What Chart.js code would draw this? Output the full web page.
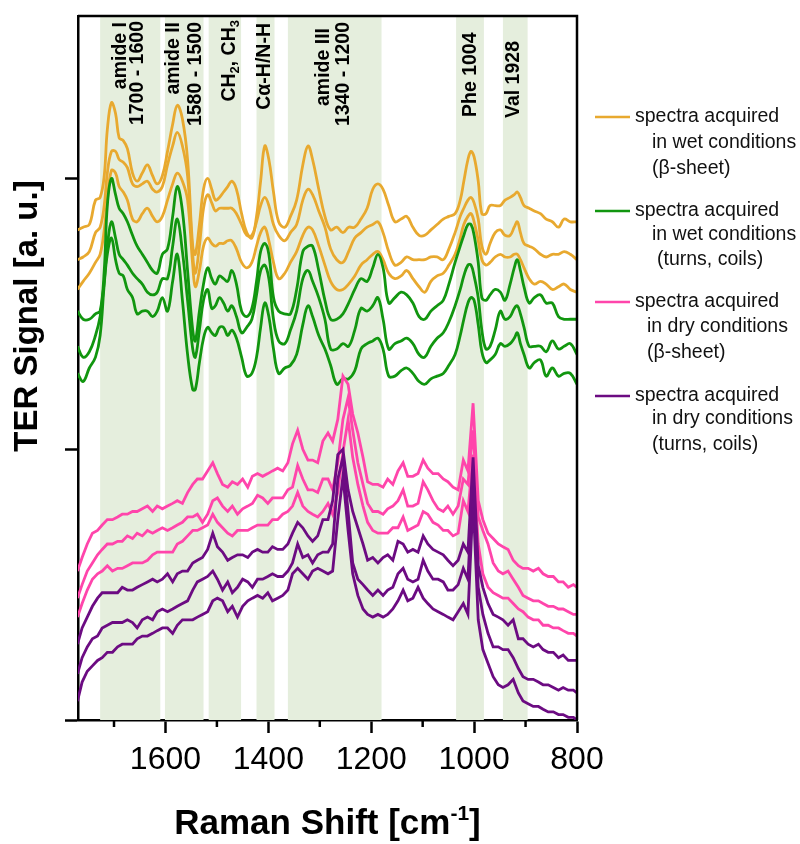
<!DOCTYPE html>
<html lang="en">
<head>
<meta charset="UTF-8" />
<title>TER spectra</title>
<script src="https://cdn.jsdelivr.net/npm/chart.js"></script>
<style>
  html, body { margin: 0; padding: 0; background: #fff; }
</style>
</head>
<body>
<canvas id="grafico" width="800" height="844"></canvas>
<script>
// Raman shift grids (cm-1)
const wetShift = [1771,1760,1748,1736,1727,1719,1713,1705,1697,1690,
  1682,1674,1664,1655,1645,1635,1625,1616,1606,1596,
  1586,1577,1567,1557,1547,1542,1534,1526,1518,1510,
  1503,1495,1487,1479,1471,1462,1452,1442,1432,1423,
  1415,1407,1399,1390,1380,1368,1357,1345,1333,1323,
  1314,1302,1290,1279,1267,1255,1244,1232,1220,1208,
  1197,1187,1177,1166,1154,1142,1131,1119,1107,1096,
  1084,1072,1060,1049,1037,1027,1020,1012,1006,1000,
  992,985,977,969,959,949,940,930,922,916,
  910,903,893,883,871,860,848,836,825,813,800];

const dryShift = [1771,1762,1752,1742,1732,1723,1713,1703,1693,1684,
  1674,1664,1655,1645,1635,1625,1616,1606,1596,1586,
  1577,1567,1557,1547,1538,1528,1518,1508,1499,1489,
  1479,1470,1460,1450,1440,1431,1421,1411,1401,1392,
  1382,1372,1362,1353,1343,1333,1323,1314,1304,1294,
  1284,1275,1265,1255,1245,1236,1226,1216,1207,1197,
  1187,1177,1168,1158,1148,1138,1129,1119,1109,1099,
  1090,1080,1070,1060,1051,1041,1031,1021,1012,1002,
  992,983,973,963,953,944,934,924,914,905,
  895,885,875,866,856,846,836,827,817,807,800];

// wet, beta-sheet (orange)
const wetBeta1 = [1.81,1.82,1.83,1.92,1.93,2.01,2.18,2.28,2.24,2.15,
  2.14,2.11,2.02,1.99,2.02,2.05,2.01,1.98,2.01,2.10,
  2.20,2.27,2.22,2.07,1.75,1.72,1.83,1.96,2.00,1.96,
  1.92,1.93,1.95,1.97,1.99,1.96,1.87,1.80,1.78,1.86,
  1.99,2.12,2.07,1.95,1.84,1.82,1.86,1.92,2.05,2.12,
  2.07,1.96,1.86,1.81,1.82,1.80,1.82,1.82,1.85,1.89,
  1.96,1.98,1.96,1.90,1.84,1.85,1.86,1.82,1.79,1.79,
  1.81,1.83,1.85,1.86,1.87,1.92,1.99,2.07,2.10,2.08,
  1.99,1.87,1.87,1.90,1.90,1.90,1.92,1.93,1.94,1.95,
  1.93,1.90,1.89,1.88,1.87,1.85,1.84,1.82,1.85,1.84,1.84];
const wetBeta2 = [1.70,1.71,1.73,1.80,1.82,1.90,2.02,2.10,2.10,2.07,
  2.06,2.04,1.98,1.97,1.98,1.99,1.96,1.95,1.97,2.05,
  2.12,2.17,2.12,2.01,1.72,1.65,1.75,1.89,1.94,1.91,
  1.88,1.89,1.89,1.89,1.89,1.87,1.83,1.79,1.79,1.84,
  1.90,1.93,1.90,1.83,1.79,1.77,1.80,1.83,1.92,1.96,
  1.94,1.88,1.82,1.74,1.70,1.69,1.73,1.78,1.80,1.82,
  1.83,1.84,1.80,1.73,1.68,1.69,1.71,1.70,1.70,1.70,
  1.71,1.71,1.70,1.74,1.80,1.86,1.89,1.92,1.93,1.91,
  1.85,1.75,1.72,1.76,1.80,1.81,1.79,1.79,1.82,1.84,
  1.80,1.76,1.75,1.74,1.72,1.71,1.72,1.72,1.73,1.72,1.70];
const wetBeta3 = [1.59,1.62,1.65,1.69,1.72,1.81,1.92,2.03,2.02,1.97,
  1.95,1.92,1.85,1.84,1.87,1.89,1.86,1.84,1.86,1.92,
  1.98,2.02,1.99,1.92,1.68,1.60,1.66,1.75,1.78,1.76,
  1.75,1.76,1.76,1.77,1.77,1.74,1.69,1.67,1.69,1.75,
  1.80,1.82,1.77,1.69,1.63,1.65,1.69,1.73,1.79,1.82,
  1.81,1.75,1.68,1.62,1.59,1.59,1.61,1.64,1.68,1.70,
  1.72,1.73,1.70,1.65,1.63,1.64,1.66,1.63,1.60,1.58,
  1.62,1.64,1.65,1.68,1.72,1.78,1.83,1.86,1.87,1.84,
  1.77,1.70,1.68,1.69,1.71,1.72,1.71,1.71,1.72,1.72,
  1.70,1.67,1.63,1.61,1.62,1.61,1.59,1.60,1.61,1.59,1.58];

// wet, turns and coils (green)
const wetTurn1 = [1.51,1.48,1.48,1.50,1.51,1.66,1.90,2.00,1.94,1.89,
  1.87,1.84,1.79,1.75,1.72,1.69,1.66,1.65,1.72,1.74,
  1.86,1.97,1.88,1.66,1.44,1.40,1.51,1.61,1.67,1.63,
  1.61,1.64,1.63,1.62,1.66,1.61,1.51,1.49,1.52,1.62,
  1.73,1.76,1.72,1.56,1.51,1.50,1.50,1.59,1.73,1.75,
  1.75,1.66,1.55,1.48,1.48,1.50,1.54,1.59,1.63,1.62,
  1.67,1.72,1.67,1.54,1.56,1.58,1.57,1.54,1.49,1.48,
  1.51,1.53,1.55,1.61,1.69,1.75,1.79,1.83,1.83,1.79,
  1.69,1.56,1.55,1.57,1.59,1.58,1.55,1.61,1.67,1.70,
  1.66,1.60,1.54,1.56,1.57,1.54,1.54,1.49,1.48,1.48,1.48];
const wetTurn2 = [1.38,1.34,1.36,1.42,1.49,1.62,1.75,1.84,1.78,1.72,
  1.70,1.68,1.65,1.63,1.61,1.58,1.57,1.58,1.63,1.63,
  1.75,1.85,1.73,1.55,1.37,1.34,1.44,1.55,1.59,1.52,
  1.53,1.56,1.54,1.51,1.53,1.49,1.43,1.45,1.48,1.57,
  1.66,1.68,1.63,1.48,1.40,1.39,1.44,1.51,1.63,1.66,
  1.62,1.56,1.48,1.37,1.37,1.39,1.38,1.44,1.52,1.51,
  1.53,1.56,1.48,1.37,1.39,1.40,1.41,1.39,1.35,1.34,
  1.38,1.41,1.43,1.47,1.53,1.59,1.64,1.68,1.68,1.64,
  1.56,1.44,1.37,1.38,1.44,1.51,1.48,1.49,1.52,1.53,
  1.50,1.45,1.38,1.38,1.38,1.36,1.40,1.37,1.38,1.39,1.35];
const wetTurn3 = [1.28,1.25,1.30,1.34,1.42,1.61,1.72,1.78,1.70,1.65,
  1.64,1.59,1.56,1.50,1.51,1.51,1.49,1.51,1.56,1.51,
  1.62,1.72,1.55,1.35,1.22,1.22,1.32,1.41,1.45,1.43,
  1.42,1.45,1.45,1.42,1.44,1.41,1.34,1.27,1.28,1.34,
  1.45,1.54,1.49,1.37,1.28,1.30,1.31,1.35,1.46,1.53,
  1.49,1.42,1.37,1.31,1.24,1.26,1.26,1.29,1.37,1.39,
  1.40,1.41,1.37,1.27,1.27,1.29,1.30,1.28,1.25,1.24,
  1.26,1.27,1.28,1.31,1.35,1.42,1.48,1.54,1.56,1.55,
  1.46,1.36,1.32,1.33,1.35,1.39,1.38,1.39,1.41,1.43,
  1.39,1.35,1.30,1.32,1.33,1.27,1.30,1.27,1.28,1.28,1.24];

// dry, beta-sheet (pink)
const dryBeta1 = [0.55,0.60,0.65,0.69,0.70,0.72,0.74,0.74,0.75,0.76,
  0.76,0.77,0.77,0.78,0.79,0.77,0.79,0.78,0.79,0.80,
  0.81,0.80,0.84,0.87,0.89,0.89,0.92,0.95,0.91,0.87,
  0.86,0.88,0.87,0.89,0.86,0.90,0.91,0.90,0.91,0.92,
  0.93,0.92,0.95,1.02,1.07,1.00,0.96,0.96,0.95,1.03,
  1.06,1.03,1.11,1.27,1.24,1.13,1.06,0.97,0.88,0.87,
  0.87,0.86,0.89,0.87,0.92,0.95,0.90,0.90,0.91,0.96,
  0.93,0.91,0.91,0.89,0.88,0.86,0.85,0.96,0.92,1.17,
  0.81,0.74,0.69,0.67,0.65,0.64,0.63,0.59,0.57,0.56,
  0.56,0.55,0.56,0.54,0.53,0.53,0.51,0.51,0.49,0.50,0.49];
const dryBeta2 = [0.45,0.50,0.55,0.58,0.61,0.63,0.65,0.65,0.66,0.66,
  0.68,0.67,0.69,0.68,0.70,0.69,0.70,0.71,0.70,0.71,
  0.72,0.73,0.75,0.75,0.76,0.73,0.76,0.81,0.82,0.79,
  0.77,0.79,0.76,0.78,0.79,0.80,0.83,0.82,0.80,0.82,
  0.82,0.82,0.85,0.86,0.94,0.89,0.85,0.85,0.84,0.89,
  0.89,0.85,0.95,1.11,1.19,1.07,0.95,0.87,0.80,0.77,
  0.77,0.76,0.78,0.79,0.81,0.85,0.79,0.79,0.80,0.88,
  0.85,0.81,0.78,0.77,0.79,0.76,0.79,0.89,0.87,1.07,
  0.75,0.70,0.65,0.58,0.55,0.54,0.55,0.52,0.49,0.46,
  0.45,0.44,0.44,0.43,0.42,0.42,0.41,0.41,0.40,0.39,0.39];
const dryBeta3 = [0.38,0.43,0.48,0.52,0.54,0.55,0.57,0.55,0.56,0.56,
  0.57,0.58,0.58,0.58,0.59,0.61,0.62,0.62,0.62,0.62,
  0.65,0.66,0.68,0.70,0.70,0.71,0.72,0.76,0.73,0.71,
  0.69,0.68,0.70,0.70,0.70,0.71,0.72,0.72,0.72,0.74,
  0.74,0.76,0.77,0.79,0.84,0.79,0.77,0.76,0.75,0.77,
  0.80,0.76,0.84,0.99,1.11,0.97,0.87,0.79,0.73,0.70,
  0.69,0.69,0.69,0.71,0.71,0.75,0.70,0.71,0.72,0.77,
  0.76,0.73,0.72,0.70,0.70,0.68,0.69,0.81,0.77,0.98,
  0.65,0.54,0.49,0.47,0.46,0.45,0.45,0.43,0.41,0.40,
  0.38,0.37,0.37,0.35,0.35,0.34,0.34,0.33,0.32,0.32,0.31];

// dry, turns and coils (purple)
const dryTurn1 = [0.28,0.34,0.38,0.42,0.45,0.47,0.47,0.47,0.47,0.49,
  0.48,0.48,0.49,0.50,0.51,0.52,0.51,0.52,0.54,0.51,
  0.54,0.55,0.55,0.58,0.59,0.60,0.63,0.69,0.64,0.62,
  0.59,0.60,0.61,0.61,0.60,0.62,0.63,0.62,0.62,0.64,
  0.63,0.63,0.65,0.69,0.73,0.71,0.68,0.66,0.68,0.74,
  0.74,0.81,0.98,1.00,0.85,0.77,0.71,0.65,0.59,0.60,
  0.58,0.60,0.61,0.59,0.66,0.65,0.62,0.63,0.62,0.68,
  0.65,0.63,0.62,0.61,0.59,0.57,0.59,0.65,0.62,0.97,
  0.57,0.49,0.43,0.39,0.38,0.37,0.35,0.37,0.30,0.30,
  0.28,0.27,0.28,0.26,0.25,0.25,0.23,0.24,0.22,0.22,0.22];
const dryTurn2 = [0.17,0.23,0.27,0.30,0.31,0.34,0.35,0.36,0.36,0.36,
  0.37,0.36,0.34,0.37,0.38,0.37,0.40,0.41,0.40,0.41,
  0.42,0.43,0.44,0.48,0.51,0.52,0.53,0.55,0.52,0.48,
  0.51,0.47,0.49,0.52,0.51,0.49,0.52,0.52,0.53,0.54,
  0.53,0.53,0.55,0.58,0.65,0.60,0.61,0.58,0.61,0.62,
  0.62,0.65,0.89,0.97,0.77,0.58,0.52,0.50,0.48,0.46,
  0.48,0.46,0.48,0.49,0.54,0.56,0.52,0.51,0.52,0.59,
  0.55,0.52,0.52,0.51,0.48,0.48,0.50,0.56,0.52,0.90,
  0.49,0.39,0.32,0.27,0.27,0.26,0.26,0.23,0.19,0.16,
  0.15,0.15,0.14,0.13,0.13,0.12,0.11,0.12,0.11,0.11,0.10];
const dryTurn3 = [0.07,0.14,0.18,0.20,0.22,0.23,0.25,0.25,0.27,0.28,
  0.28,0.28,0.30,0.31,0.31,0.32,0.33,0.34,0.34,0.32,
  0.35,0.37,0.37,0.37,0.38,0.39,0.40,0.44,0.45,0.44,
  0.40,0.42,0.38,0.42,0.44,0.45,0.46,0.45,0.47,0.44,
  0.45,0.46,0.48,0.54,0.56,0.54,0.52,0.55,0.56,0.55,
  0.54,0.55,0.74,0.90,0.70,0.54,0.46,0.41,0.39,0.38,
  0.39,0.38,0.39,0.41,0.44,0.48,0.44,0.45,0.49,0.45,
  0.43,0.41,0.40,0.39,0.38,0.37,0.40,0.43,0.39,0.81,
  0.37,0.26,0.21,0.16,0.13,0.12,0.13,0.15,0.10,0.07,
  0.06,0.05,0.05,0.04,0.03,0.03,0.02,0.02,0.01,0.01,0.00];

// shaded assignment bands [high, low] in cm-1
const bandRanges = [[1727,1610],[1601,1526],[1516,1453],[1423,1388],[1362,1180],[1035,981],[944,896]];
const majorTicks = [1600, 1400, 1200, 1000, 800];
const minorTicks = [1700, 1500, 1300, 1100, 900];

// band labels: lines of text, each a list of [text, isSubscript]
const bandLabels = [
  { at: 1687, top: 22, parts: [['amide I', 0]] },
  { at: 1654, top: 21, parts: [['1700 - 1600', 0]] },
  { at: 1585, top: 22, parts: [['amide II', 0]] },
  { at: 1541, top: 22, parts: [['1580 - 1500', 0]] },
  { at: 1476, top: 20, parts: [['CH', 0], ['2', 1], [', CH', 0], ['3', 1]] },
  { at: 1407, top: 23, parts: [['C\u03b1-H/N-H', 0]] },
  { at: 1292, top: 28, parts: [['amide III', 0]] },
  { at: 1254, top: 22, parts: [['1340 - 1200', 0]] },
  { at: 1006, bottom: 117, parts: [['Phe 1004', 0]] },
  { at: 924, bottom: 118, parts: [['Val 1928', 0]] }
];

const legendItems = [
  { color: '#e8a92f', lines: ['spectra acquired', 'in wet conditions', '(\u03b2-sheet)'] },
  { color: '#11960f', lines: ['spectra acquired', 'in wet conditions', '(turns, coils)'] },
  { color: '#ff45ab', lines: ['spectra acquired', 'in dry conditions', '(\u03b2-sheet)'] },
  { color: '#6c0b82', lines: ['spectra acquired', 'in dry conditions', '(turns, coils)'] }
];

function serie(shift, values, color, tension) {
  return {
    data: shift.map((v, i) => ({ x: v, y: values[i] })),
    borderColor: color,
    borderWidth: 2.8,
    pointRadius: 0,
    tension: tension,
    fill: false
  };
}

const FONT = '"Liberation Sans", Arial, sans-serif';

const decorPlugin = {
  id: 'decor',
  beforeDatasetsDraw(chart) {
    const { ctx, chartArea: a, scales: { x } } = chart;
    ctx.save();
    ctx.fillStyle = '#e5eedd';
    bandRanges.forEach(([hi, lo]) => {
      const x1 = x.getPixelForValue(hi), x2 = x.getPixelForValue(lo);
      ctx.fillRect(x1, a.top, x2 - x1, a.bottom - a.top);
    });
    ctx.restore();
  },
  afterDatasetsDraw(chart) {
    const { ctx, scales: { x } } = chart;
    const big = 'bold 19.5px ' + FONT, small = 'bold 13px ' + FONT;
    ctx.save();
    ctx.fillStyle = '#000';
    bandLabels.forEach(lab => {
      let total = 0;
      const w = lab.parts.map(([t, sub]) => {
        ctx.font = sub ? small : big;
        const m = ctx.measureText(t).width;
        total += m;
        return m;
      });
      const cx = x.getPixelForValue(lab.at);
      ctx.save();
      ctx.translate(cx, lab.top !== undefined ? lab.top : lab.bottom);
      ctx.rotate(-Math.PI / 2);
      ctx.textBaseline = 'middle';
      ctx.textAlign = 'left';
      let pos = lab.top !== undefined ? -total : 0;
      lab.parts.forEach(([t, sub], i) => {
        ctx.font = sub ? small : big;
        ctx.fillText(t, pos, sub ? 6 : 0);
        pos += w[i];
      });
      ctx.restore();
    });
    ctx.restore();
  },
  afterDraw(chart) {
    const { ctx, chartArea: a, scales: { x } } = chart;
    ctx.save();
    ctx.strokeStyle = '#000';
    ctx.lineWidth = 2.5;
    // top and right frame
    ctx.beginPath();
    ctx.moveTo(a.left, a.top);
    ctx.lineTo(a.right, a.top);
    ctx.lineTo(a.right, a.bottom);
    ctx.stroke();
    // minor ticks
    minorTicks.forEach(v => {
      const px = x.getPixelForValue(v);
      ctx.beginPath();
      ctx.moveTo(px, a.bottom);
      ctx.lineTo(px, a.bottom + 7);
      ctx.stroke();
    });

    // axis titles
    ctx.fillStyle = '#000';
    ctx.textBaseline = 'alphabetic';
    const t1 = 'Raman Shift [cm', sup = '-1', t2 = ']';
    ctx.font = 'bold 35px ' + FONT;
    const w1 = ctx.measureText(t1).width, w3 = ctx.measureText(t2).width;
    ctx.font = 'bold 21px ' + FONT;
    const w2 = ctx.measureText(sup).width;
    let sx = (a.left + a.right) / 2 - (w1 + w2 + w3) / 2;
    const by = 834;
    ctx.font = 'bold 35px ' + FONT;
    ctx.textAlign = 'left';
    ctx.fillText(t1, sx, by);
    ctx.font = 'bold 21px ' + FONT;
    ctx.fillText(sup, sx + w1, by - 14);
    ctx.font = 'bold 35px ' + FONT;
    ctx.fillText(t2, sx + w1 + w2, by);

    ctx.save();
    ctx.translate(28, 316);
    ctx.rotate(-Math.PI / 2);
    ctx.textAlign = 'center';
    ctx.textBaseline = 'middle';
    ctx.font = 'bold 33px ' + FONT;
    ctx.fillText('TER Signal [a. u.]', 0, 0);
    ctx.restore();

    // legend
    const rows = [[117, 143, 169], [211, 235, 260], [302, 327, 353], [396, 419, 445]];
    const indent = [[635, 652, 652], [635, 652, 657], [635, 647, 647], [635, 652, 652]];
    ctx.font = '19.5px ' + FONT;
    ctx.textAlign = 'left';
    ctx.textBaseline = 'middle';
    legendItems.forEach((item, i) => {
      ctx.strokeStyle = item.color;
      ctx.lineWidth = 2.5;
      ctx.beginPath();
      ctx.moveTo(595, rows[i][0]);
      ctx.lineTo(630, rows[i][0]);
      ctx.stroke();
      ctx.fillStyle = '#111';
      item.lines.forEach((t, j) => ctx.fillText(t, indent[i][j], rows[i][j]));
    });
    ctx.restore();
  }
};

new Chart(document.getElementById('grafico').getContext('2d'), {
  type: 'line',
  data: {
    datasets: [
      serie(dryShift, dryTurn1, legendItems[3].color, 0),
      serie(dryShift, dryTurn2, legendItems[3].color, 0),
      serie(dryShift, dryTurn3, legendItems[3].color, 0),
      serie(dryShift, dryBeta1, legendItems[2].color, 0),
      serie(dryShift, dryBeta2, legendItems[2].color, 0),
      serie(dryShift, dryBeta3, legendItems[2].color, 0),
      serie(wetShift, wetTurn1, legendItems[1].color, 0.4),
      serie(wetShift, wetTurn2, legendItems[1].color, 0.4),
      serie(wetShift, wetTurn3, legendItems[1].color, 0.4),
      serie(wetShift, wetBeta1, legendItems[0].color, 0.4),
      serie(wetShift, wetBeta2, legendItems[0].color, 0.4),
      serie(wetShift, wetBeta3, legendItems[0].color, 0.4)
    ]
  },
  options: {
    responsive: false,
    animation: false,
    layout: { padding: { top: 16, right: 223, left: 0, bottom: 0 } },
    plugins: { legend: { display: false }, tooltip: { enabled: false } },
    scales: {
      x: {
        type: 'linear',
        reverse: true,
        min: 800,
        max: 1770,
        afterFit: s => { s.height = 124; },
        afterBuildTicks: s => { s.ticks = majorTicks.map(v => ({ value: v })); },
        ticks: {
          color: '#000',
          font: { family: FONT, size: 32 },
          padding: 8,
          maxRotation: 0,
          autoSkip: false,
          callback: v => String(v)
        },
        grid: { drawOnChartArea: false, drawTicks: true, tickLength: 13, tickWidth: 2.5, tickColor: '#000' },
        border: { display: true, color: '#000', width: 2.5 }
      },
      y: {
        min: 0,
        max: 2.6,
        afterFit: s => { s.width = 78; },
        afterBuildTicks: s => { s.ticks = [0, 1, 2].map(v => ({ value: v })); },
        ticks: { callback: () => '' },
        grid: { drawOnChartArea: false, drawTicks: true, tickLength: 13, tickWidth: 2.5, tickColor: '#000' },
        border: { display: true, color: '#000', width: 2.5 }
      }
    }
  },
  plugins: [decorPlugin]
});
</script>
</body>
</html>
